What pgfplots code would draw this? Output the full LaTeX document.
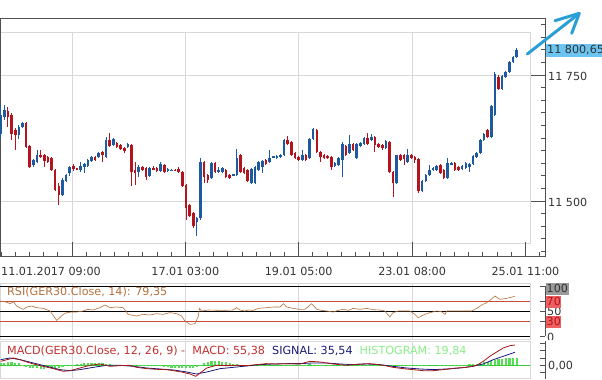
\documentclass[border=0pt]{standalone}
\usepackage{fontspec}
\setmainfont{DejaVu Sans}
\usepackage{pgfplots}
\pgfplotsset{compat=1.18}
\usepackage{pgfplotstable}
\usetikzlibrary{arrows.meta}

\definecolor{cblue}{HTML}{1E5AA0}
\definecolor{cred}{HTML}{B3141E}
\definecolor{gridg}{HTML}{D8D8D8}
\definecolor{framed}{HTML}{505050}
\definecolor{txt}{HTML}{333333}
\definecolor{rsic}{HTML}{B5703C}
\definecolor{rsired}{HTML}{CC4A3A}
\definecolor{macdred}{HTML}{A01818}
\definecolor{signav}{HTML}{1A1A7A}
\definecolor{histg}{HTML}{55DD55}
\definecolor{zerog}{HTML}{33CC33}
\definecolor{lblue}{HTML}{6CC5F0}
\definecolor{arrowc}{HTML}{2A9FD6}
\definecolor{macdtitle}{HTML}{C03030}
\definecolor{histtitle}{HTML}{88EE88}
\definecolor{boxred}{HTML}{EE6060}
\definecolor{boxgray}{HTML}{9A9A9A}

\newcommand\lf{\fontsize{11.2}{13}\selectfont}

\pgfplotstableread{
i O H L C
0 11634 11690 11624 11670
1 11667 11690 11661 11680
5 11631 11651 11624 11647
6 11646 11657 11644 11655
9 11571 11583 11568 11581
10 11578 11601 11576 11591
17 11512 11545 11510 11542
18 11539 11554 11537 11552
19 11555 11569 11550 11567
22 11562 11578 11558 11570
23 11567 11575 11556 11573
24 11570 11583 11568 11581
25 11580 11590 11578 11588
27 11588 11598 11586 11596
29 11588 11628 11586 11621
31 11611 11626 11609 11624
35 11608 11616 11606 11614
38 11558 11571 11548 11567
41 11550 11567 11548 11565
44 11559 11578 11557 11573
46 11560 11565 11558 11563
47 11561 11563 11560 11562
54 11459 11468 11430 11466
55 11466 11585 11462 11578
58 11545 11577 11543 11575
60 11558 11568 11556 11562
61 11558 11567 11556 11565
64 11552 11554 11550 11553
65 11552 11603 11550 11585
69 11535 11565 11533 11563
70 11535 11569 11533 11567
71 11562 11580 11560 11578
72 11568 11582 11555 11580
74 11578 11601 11576 11585
75 11587 11590 11585 11588
76 11585 11591 11583 11589
77 11588 11593 11586 11591
78 11591 11623 11589 11621
83 11581 11601 11579 11591
85 11585 11626 11583 11624
86 11624 11644 11622 11642
92 11570 11577 11568 11575
93 11571 11587 11569 11585
94 11581 11618 11547 11614
96 11595 11631 11593 11614
98 11585 11616 11583 11614
99 11609 11618 11607 11616
100 11613 11628 11611 11626
102 11621 11633 11619 11628
106 11605 11622 11603 11620
109 11536 11591 11534 11591
112 11578 11604 11576 11591
116 11519 11541 11517 11539
117 11539 11554 11537 11552
118 11552 11571 11550 11562
119 11562 11567 11560 11565
120 11562 11572 11560 11570
123 11545 11585 11543 11575
124 11574 11577 11572 11575
127 11563 11572 11561 11570
128 11565 11577 11563 11575
129 11567 11575 11558 11573
130 11573 11591 11571 11589
131 11588 11597 11586 11595
132 11595 11623 11593 11621
133 11621 11635 11619 11633
135 11628 11690 11626 11688
136 11671 11756 11669 11753
138 11723 11750 11721 11748
139 11746 11758 11744 11756
140 11756 11778 11754 11776
141 11776 11788 11774 11786
142 11786 11804 11784 11799
}\upc

\pgfplotstableread{
i O H L C
2 11679 11687 11647 11667
3 11670 11674 11621 11634
4 11641 11644 11601 11631
7 11655 11657 11606 11608
8 11609 11611 11565 11568
11 11591 11601 11585 11588
12 11591 11593 11568 11580
13 11588 11590 11576 11578
14 11585 11587 11560 11562
15 11562 11564 11519 11522
16 11529 11535 11492 11512
20 11570 11573 11560 11563
21 11565 11566 11562 11563
26 11588 11590 11580 11581
28 11598 11600 11578 11591
30 11621 11634 11607 11609
32 11616 11618 11606 11608
33 11611 11613 11602 11604
34 11606 11608 11595 11599
36 11611 11613 11529 11558
37 11562 11578 11532 11555
39 11568 11570 11560 11562
40 11565 11567 11542 11547
42 11566 11570 11561 11563
43 11565 11567 11558 11560
45 11571 11573 11556 11558
48 11562 11563 11560 11561
49 11563 11568 11555 11558
50 11558 11560 11527 11529
51 11532 11534 11463 11486
52 11492 11494 11468 11470
53 11476 11478 11446 11451
56 11578 11580 11535 11547
57 11552 11554 11535 11542
59 11575 11577 11556 11558
62 11562 11564 11546 11548
63 11552 11554 11543 11545
66 11591 11593 11556 11558
67 11565 11567 11554 11556
68 11562 11564 11537 11539
73 11581 11583 11571 11573
79 11622 11629 11611 11613
80 11618 11620 11589 11591
81 11595 11597 11583 11585
82 11588 11590 11579 11581
84 11591 11593 11579 11581
87 11641 11643 11596 11598
88 11598 11600 11578 11588
89 11591 11593 11583 11585
90 11589 11591 11584 11586
91 11588 11590 11562 11568
95 11609 11611 11589 11591
97 11614 11616 11599 11601
101 11626 11634 11612 11614
103 11628 11630 11598 11611
104 11613 11615 11606 11608
105 11611 11613 11601 11605
107 11618 11620 11556 11558
108 11558 11560 11508 11536
110 11591 11593 11579 11581
111 11591 11593 11571 11583
113 11591 11593 11583 11585
114 11588 11590 11575 11581
115 11583 11585 11517 11519
121 11571 11573 11553 11555
122 11562 11564 11543 11545
125 11575 11577 11560 11562
126 11568 11570 11560 11562
134 11641 11643 11626 11628
137 11746 11750 11721 11723
}\downc

\pgfplotstableread{
i v
0 70
1.2 68.7
2.6 64.7
3.5 68.7
4.4 60
6.2 53.3
7.2 58
8.5 60
9.9 56.7
11.7 55.3
13.6 50
15.4 31.3
16.3 36.7
17.2 43.3
18.2 46.7
19.5 48
20.9 48
22.7 50
23.8 53.3
25.5 52
27.3 56.7
28.7 62
30.1 56.7
31.9 58
33.7 56.7
35.1 43.3
36.0 42
37.4 40
39.2 43.3
41.1 42
42.9 44.7
44.7 43.3
46.6 46.7
48.4 44.7
49.8 40
50.7 30
52.1 23.3
53.5 24.7
54.4 40
54.7 55.3
55.3 50
57.1 52
60.8 51.3
64.0 52
64.9 56.7
65.9 52
67.2 50
68.1 52
69.5 51.3
70.9 55.3
73.2 56.7
75.0 58
76.9 58
77.8 64.7
78.7 58
80.5 55.3
82.4 53.3
83.7 53.3
85.6 64.7
87.0 53.3
88.3 51.3
89.7 50
91.5 48
92.9 51.3
94.3 53.3
95.7 51.3
97.0 55.3
98.9 53.3
100.7 55.3
102.5 52.7
104.4 52
105.7 50
107.1 38
108.0 46.7
109.4 50
112.6 50
114.0 43.3
114.9 36.7
116.3 42
118.1 46.7
120.0 50
121.3 48.7
122.3 43.3
122.7 50
126.4 50
129.6 50
131.0 55.3
132.4 62
133.7 66.7
134.6 71.3
136.0 80
137.4 73.3
139.2 75.3
141.5 79.35
}\rsi

\pgfplotstableread{
i v
0 10.9
3.5 20.0
5.3 15.5
7.2 9.1
9.0 3.6
11.7 -2.7
14.5 -9.1
17.2 -16.4
19.1 -14.6
21.8 -7.3
24.6 0
27.3 3.6
30.1 -2.7
32.8 -0.9
35.6 0
37.4 -5.5
40.2 -9.1
42.9 -10.9
45.7 -11.8
47.5 -14.6
49.8 -18.2
52.1 -23.7
53.7 -30.0
54.9 -20.9
56.7 -7.3
59.4 0
62.2 -0.9
64.9 0
67.7 -0.9
70.4 1.8
73.2 4.6
75.9 3.6
78.7 4.6
82.4 3.6
85.1 10.9
87.9 9.1
91.5 3.6
95.2 0
98.9 3.6
101.6 4.6
105.3 0
108.0 -5.5
110.8 -9.1
113.5 -11.8
116.3 -14.6
119.0 -14.6
121.8 -11.8
125.5 -7.3
128.2 -5.5
131.0 0
132.8 10.9
134.6 24.6
136.5 36.4
138.3 47.3
140.2 53.7
141.5 55.38
}\macd

\pgfplotstableread{
i v
0 15.5
2.6 20.0
5.3 15.5
9.0 6.4
12.7 -2.7
16.3 -11.8
19.1 -14.6
21.8 -11.8
25.5 -5.5
29.2 0
32.8 0
36.5 -2.7
40.2 -7.3
43.8 -10.0
47.5 -12.7
51.2 -18.2
53.9 -23.7
56.7 -18.2
60.4 -9.1
64.0 -5.5
67.7 -1.8
71.4 1.8
75.0 3.6
78.7 4.6
82.4 4.6
86.0 6.4
89.7 6.4
93.4 3.6
97.0 1.8
100.7 3.6
104.4 1.8
108.0 -2.7
111.7 -7.3
115.4 -10.0
119.0 -11.8
122.7 -10.0
126.4 -7.3
130.0 -2.7
132.8 3.6
135.6 15.5
138.3 24.6
141.5 35.54
}\signal

\pgfplotstableread{
i h
0 6
1 7
2 8
3 8
4 7
5 5
6 -2
7 -4
8 -6
9 -7
10 -8
11 -9
12 -9
13 -8
14 -8
15 -7
16 -6
17 -5
18 -3
19 -1
20 2
21 3
22 4
23 5
24 5
25 6
26 6
27 5
28 5
29 4
30 3
31 1
32 0
33 -1
34 -2
35 -3
36 -3
37 -2
38 -2
39 -3
40 -2
41 -2
42 -1
43 -1
44 -3
45 -4
46 -5
47 -6
48 -7
49 -8
50 -8
51 -8
52 -7
53 -6
54 -4
55 2
56 6
57 9
58 11
59 12
60 11
61 10
62 8
63 6
64 4
65 3
66 2
67 2
68 1
69 1
70 1
71 1
72 1
73 1
74 0
75 0
76 0
77 0
78 1
79 2
80 2
81 1
82 2
83 2
84 2
85 3
86 2
87 2
88 1
89 -1
90 -2
91 -2
92 -2
93 -3
94 -2
95 -2
96 -1
97 -1
98 0
99 1
100 1
101 1
102 1
103 1
104 1
105 -1
106 -2
107 -3
108 -4
109 -3
110 -3
111 -2
112 -1
113 -1
114 -1
115 -2
116 -1
117 -1
118 0
119 0
120 0
121 1
122 2
123 2
124 2
125 2
126 2
127 2
128 2
129 3
130 3
131 4
132 6
133 8
134 10
135 12
136 14
137 16
138 18
139 19
140 20
141 20
142 20
}\hist

\begin{document}
\begin{tikzpicture}[x=1bp,y=1bp]
\useasboundingbox (0,0) rectangle (602,-379);

% ---------- main panel background decorations ----------
\draw[gridg, line width=0.8] (0,-32) rectangle (530,-243);
\foreach \xx in {72,185.3,298.7,412.1}{\draw[gridg, line width=0.8] (\xx,-32) -- (\xx,-243);}
\draw[gridg, line width=0.8] (0,-75) -- (530,-75);
\draw[gridg, line width=0.8] (0,-201) -- (530,-201);

\begin{axis}[
  at={(0bp,-256bp)}, anchor=south west,
  width=545bp, height=238bp, scale only axis,
  xmin=-0.19, xmax=149.8, ymin=11390.9, ymax=11863.1,
  axis line style={draw=framed, line width=0.8bp},
  xtick={19.6,50.8,82.0,113.2,144.4},
  minor xtick={0.1,4.0,...,148},
  ytick={11500,11750},
  minor ytick={11400,11425,...,11850},
  xtick pos=left, ytick pos=right,
  tick align=inside,
  major tick length=14.5bp, minor tick length=4.5bp,
  tick style={draw=framed, line width=0.8bp},
  xticklabels={}, yticklabels={},
  scaled ticks=false,
  clip mode=individual,
]
\addplot[draw=none, mark=none, forget plot, error bars/.cd, y dir=both, y explicit, error mark=none,
  error bar style={line width=1bp, draw=cblue}]
  table[x=i, y expr={(\thisrow{H}+\thisrow{L})/2}, y error expr={(\thisrow{H}-\thisrow{L})/2}] {\upc};
\addplot[draw=none, mark=none, forget plot, error bars/.cd, y dir=both, y explicit, error mark=none,
  error bar style={line width=2.6bp, draw=cblue}]
  table[x=i, y expr={(\thisrow{O}+\thisrow{C})/2}, y error expr={max(abs(\thisrow{O}-\thisrow{C})/2,1)}] {\upc};
\addplot[draw=none, mark=none, forget plot, error bars/.cd, y dir=both, y explicit, error mark=none,
  error bar style={line width=1bp, draw=cred}]
  table[x=i, y expr={(\thisrow{H}+\thisrow{L})/2}, y error expr={(\thisrow{H}-\thisrow{L})/2}] {\downc};
\addplot[draw=none, mark=none, forget plot, error bars/.cd, y dir=both, y explicit, error mark=none,
  error bar style={line width=2.6bp, draw=cred}]
  table[x=i, y expr={(\thisrow{O}+\thisrow{C})/2}, y error expr={max(abs(\thisrow{O}-\thisrow{C})/2,1)}] {\downc};
\end{axis}

% x labels
\node[font=\lf, text=txt, anchor=base west, inner sep=0] at (1,-275) {11.01.2017 09:00};
\node[font=\lf, text=txt, anchor=base, inner sep=0] at (185.3,-275) {17.01 03:00};
\node[font=\lf, text=txt, anchor=base, inner sep=0] at (298.7,-275) {19.01 05:00};
\node[font=\lf, text=txt, anchor=base, inner sep=0] at (412.1,-275) {23.01 08:00};
\node[font=\lf, text=txt, anchor=base, inner sep=0] at (525.4,-275) {25.01 11:00};
% price labels
\node[font=\lf, text=txt, anchor=west, inner sep=0] at (548,-76) {11 750};
\node[font=\lf, text=txt, anchor=west, inner sep=0] at (548,-202) {11 500};
\node[font=\lf, text=txt, fill=lblue, anchor=west, inner xsep=1.5bp, inner ysep=0, minimum height=13bp] at (545.5,-50.5) {11 800,65};
% arrow
\draw[arrowc, line width=3bp, line cap=round] (527.3,-54) -- (579,-13.6);
\draw[arrowc, line width=3bp, line cap=round, line join=round] (555,-20.7) -- (579.3,-13.3) -- (571.7,-33.3);

% ---------- RSI panel ----------
\draw[gridg, line width=0.8] (0,-283) rectangle (530,-339);
\foreach \xx in {72,185.3,298.7,412.1}{\draw[gridg, line width=0.8] (\xx,-283) -- (\xx,-339);}
\draw[rsired, line width=0.6] (0,-301) -- (530,-301);
\draw[rsired, line width=0.6] (0,-321) -- (530,-321);
\draw[black, line width=0.9] (0,-286) -- (530,-286);
\draw[black, line width=0.9] (0,-311) -- (530,-311);
\draw[black, line width=0.9] (0,-336) -- (530,-336);
\draw[framed, line width=0.8] (545,-286) -- (545,-336);
\foreach \yy in {286,301,311,321,336}{\draw[framed, line width=0.8] (540,-\yy) -- (545,-\yy);}

\begin{axis}[
  at={(0bp,-339bp)}, anchor=south west,
  width=545bp, height=56bp, scale only axis,
  xmin=-0.19, xmax=149.8, ymin=-6, ymax=106,
  hide axis,
]
\addplot[rsic, line width=0.6bp, mark=none] table[x=i, y=v] {\rsi};
\end{axis}

\node[font=\lf, text=rsic, anchor=base west, inner sep=0] at (7,-295) {RSI(GER30.Close, 14): 79,35};
\node[font=\lf, text=txt, anchor=west, inner sep=0] at (547,-311.5) {50};
\node[font=\lf, text=txt, anchor=west, inner sep=0] at (547,-337.5) {0};
\node[font=\lf, text=txt, fill=boxgray, anchor=west, inner xsep=0.5bp, inner ysep=0, minimum height=12bp] at (546,-288.5) {100};
\node[font=\lf, text=cred, fill=boxred, anchor=west, inner xsep=0.5bp, inner ysep=0, minimum height=12bp] at (546,-301.5) {70};
\node[font=\lf, text=cred, fill=boxred, anchor=west, inner xsep=0.5bp, inner ysep=0, minimum height=12bp] at (546,-321.5) {30};

% ---------- MACD panel ----------
\fill[white] (531,-339.6) rectangle (602,-379);
\draw[gridg, line width=0.8] (0,-341) rectangle (530,-378.5);
\foreach \xx in {72,185.3,298.7,412.1}{\draw[gridg, line width=0.8] (\xx,-341) -- (\xx,-378.5);}
\draw[framed, line width=0.8] (545,-341) -- (545,-378.5);
\foreach \yy in {343.3,350.6,358,365.3,372.6}{\draw[framed, line width=0.8] (540,-\yy) -- (545,-\yy);}

\begin{axis}[
  at={(0bp,-378.5bp)}, anchor=south west,
  width=545bp, height=37.5bp, scale only axis,
  xmin=-0.19, xmax=149.8, ymin=-36, ymax=66.3,
  hide axis,
]
\addplot[zerog, line width=0.8bp, mark=none, forget plot] coordinates {(-0.19,0) (145.6,0)};
\addplot[ycomb, histg, line width=2.2bp, mark=none] table[x=i, y=h] {\hist};
\addplot[signav, line width=0.8bp, mark=none] table[x=i, y=v] {\signal};
\addplot[macdred, line width=0.8bp, mark=none] table[x=i, y=v] {\macd};
\end{axis}

\node[font=\lf, anchor=base west, inner sep=0] at (7,-354) {{\color{macdtitle}MACD(GER30.Close, 12, 26, 9) -\ \ MACD: 55,38}\ \ {\color{signav}SIGNAL: 35,54}\ \ {\color{histtitle}HISTOGRAM: 19,84}};
\node[font=\lf, text=txt, anchor=west, inner sep=0] at (548,-366) {0,00};
\end{tikzpicture}
\end{document}
